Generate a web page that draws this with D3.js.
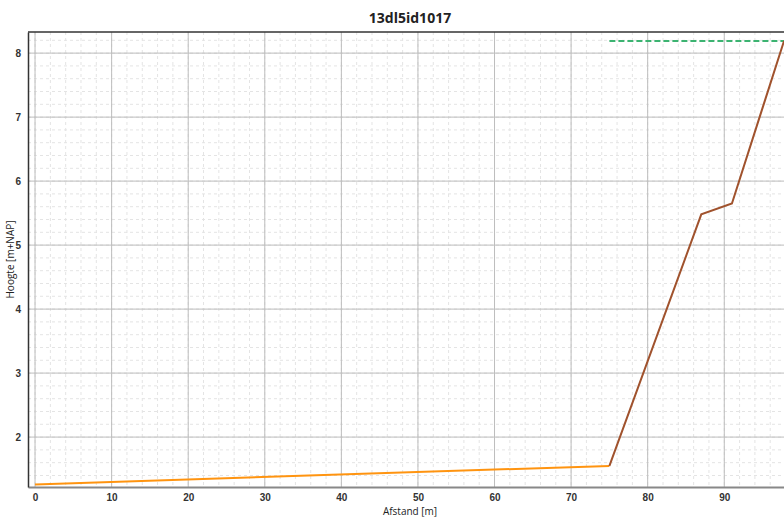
<!DOCTYPE html>
<html>
<head>
<meta charset="utf-8">
<script src="https://cdn.jsdelivr.net/npm/d3@7.9.0/dist/d3.min.js"></script>
<style>
  body { margin: 0; background: #fff; }
  svg { font-family: 'Open Sans', sans-serif; display: block; }
  .tick text { fill: #333; font-size: 10px; font-weight: 600; }
</style>
</head>
<body>
<svg id="chart" width="784" height="519"></svg>
<script>
const title = '13dl5id1017';
const xLabel = 'Afstand [m]';
const yLabel = 'Hoogte [m+NAP]';

// profiel: voorland, talud, kruinhoogte
const voorlandX = [0, 75];
const voorlandY = [1.26, 1.55];
const taludX = [75, 87, 91, 97.8];
const taludY = [1.55, 5.48, 5.65, 8.19];
const kruinX = [75, 97.8];
const kruinY = [8.19, 8.19];

const xTicks = [0, 10, 20, 30, 40, 50, 60, 70, 80, 90];
const yTicks = [2, 3, 4, 5, 6, 7, 8];

const margin = { top: 32, right: 0, bottom: 32, left: 28 };
const width = 784, height = 519;

const svg = d3.select('#chart');

const x = d3.scaleLinear().domain([-0.92, 97.8]).range([margin.left, width - margin.right]);
const y = d3.scaleLinear().domain([1.22, 8.33]).range([height - margin.bottom, margin.top]);

const minorX = d3.range(0, 98, 2);
const minorY = d3.range(1.4, 8.4, 0.2);

const grid = svg.append('g');
grid.selectAll('.mx').data(minorX).join('line')
  .attr('x1', (d) => x(d)).attr('x2', (d) => x(d))
  .attr('y1', margin.top).attr('y2', height - margin.bottom)
  .attr('stroke', '#e4e4e4').attr('stroke-dasharray', '3,3');
grid.selectAll('.my').data(minorY).join('line')
  .attr('y1', (d) => y(d)).attr('y2', (d) => y(d))
  .attr('x1', margin.left).attr('x2', width - margin.right)
  .attr('stroke', '#e4e4e4').attr('stroke-dasharray', '3,3');
grid.selectAll('.gx').data(xTicks).join('line')
  .attr('x1', (d) => x(d)).attr('x2', (d) => x(d))
  .attr('y1', margin.top).attr('y2', height - margin.bottom)
  .attr('stroke', '#bdbdbd');
grid.selectAll('.gy').data(yTicks).join('line')
  .attr('y1', (d) => y(d)).attr('y2', (d) => y(d))
  .attr('x1', margin.left).attr('x2', width - margin.right)
  .attr('stroke', '#bdbdbd');

const line = d3.line().x((d) => x(d[0])).y((d) => y(d[1]));

svg.append('path')
  .datum(d3.zip(kruinX, kruinY))
  .attr('d', line)
  .attr('fill', 'none').attr('stroke', '#3cb371').attr('stroke-width', 2)
  .attr('stroke-dasharray', '6,3');

svg.append('path')
  .datum(d3.zip(voorlandX, voorlandY))
  .attr('d', line)
  .attr('fill', 'none').attr('stroke', '#ff9410').attr('stroke-width', 2);

svg.append('path')
  .datum(d3.zip(taludX, taludY))
  .attr('d', line)
  .attr('fill', 'none').attr('stroke', '#a0522d').attr('stroke-width', 2);

// assen
const xAxis = svg.append('g')
  .attr('transform', `translate(0,${height - margin.bottom})`)
  .call(d3.axisBottom(x).tickValues(xTicks).tickSize(0).tickPadding(7));
xAxis.select('.domain').attr('stroke', '#888').attr('stroke-width', 2);

const yAxis = svg.append('g')
  .attr('transform', `translate(${margin.left},0)`)
  .call(d3.axisLeft(y).tickValues(yTicks).tickSize(0).tickPadding(7));
yAxis.select('.domain').attr('stroke', '#333').attr('stroke-width', 1.5);

svg.append('line')
  .attr('x1', margin.left).attr('x2', width)
  .attr('y1', margin.top).attr('y2', margin.top)
  .attr('stroke', '#333').attr('stroke-width', 1.5);

svg.append('text')
  .attr('x', 410).attr('y', 23)
  .attr('text-anchor', 'middle')
  .attr('font-size', 14).attr('font-weight', 'bold').attr('fill', '#222')
  .text(title);

svg.append('text')
  .attr('x', 410).attr('y', 515)
  .attr('text-anchor', 'middle')
  .attr('font-size', 10).attr('fill', '#222')
  .text(xLabel);

svg.append('text')
  .attr('transform', `translate(14,${(margin.top + height - margin.bottom) / 2}) rotate(-90)`)
  .attr('text-anchor', 'middle')
  .attr('font-size', 10).attr('fill', '#222')
  .text(yLabel);
</script>
</body>
</html>
